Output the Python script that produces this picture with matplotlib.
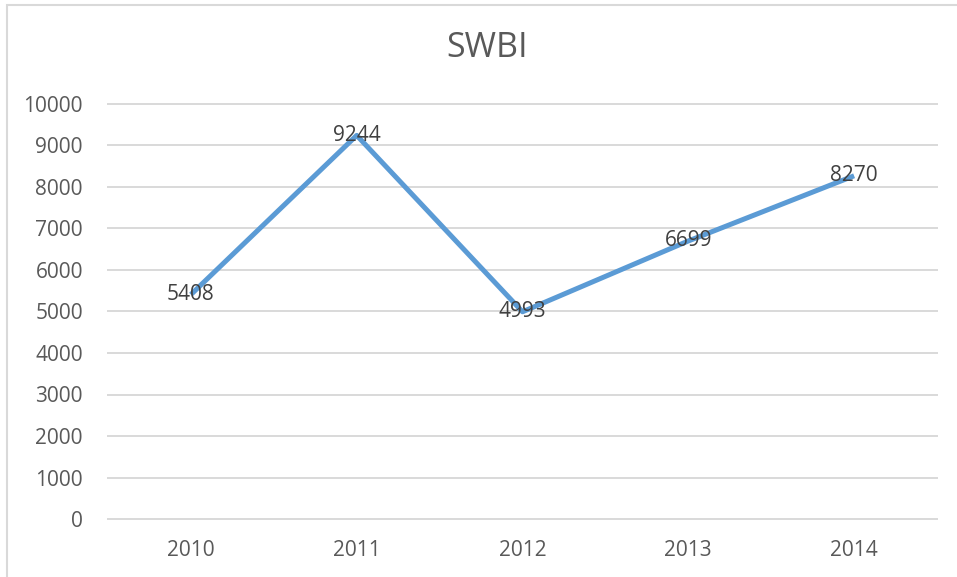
import matplotlib.pyplot as plt
from matplotlib.patches import Rectangle

# chart data
years = ["2010", "2011", "2012", "2013", "2014"]
values = [5408, 9244, 4993, 6699, 8270]
y_ticks = [0, 1000, 2000, 3000, 4000, 5000, 6000, 7000, 8000, 9000, 10000]

plt.rcParams['font.family'] = ['Open Sans', 'DejaVu Sans']

fig = plt.figure(figsize=(9.57, 5.77), dpi=100)
ax = fig.add_axes([108/957, 1 - 519/577, 829/957, 415/577])

x = list(range(len(years)))
ax.plot(x, values, color='#5B9BD5', linewidth=3.6, solid_capstyle='butt', zorder=3)

# data labels sit on the points
for xi, v in zip(x, values):
    ax.text(xi, v, str(v), ha='center', va='center', fontsize=15, color='#404040', zorder=4)

ax.set_xlim(-0.5, len(years) - 0.5)
ax.set_ylim(0, 10000)
ax.set_xticks(x)
ax.set_xticklabels(years)
ax.set_yticks(y_ticks)
ax.set_yticklabels([str(t) for t in y_ticks])
ax.tick_params(length=0, labelsize=15, labelcolor='#595959')
ax.tick_params(axis='y', pad=18)
ax.tick_params(axis='x', pad=15)
ax.grid(axis='y', color='#d9d9d9', linewidth=1.4)
for gl in ax.get_ygridlines():
    gl.set_clip_on(False)
ax.set_axisbelow(True)
for s in ax.spines.values():
    s.set_visible(False)

fig.text(487/957, 1 - 48/577, "SWBI", ha='center', va='center', fontsize=24.5, color='#595959')

# chart border (only left and top edges are in view)
fig.patches.append(Rectangle((7/957, -0.1), 1.2, 1 - 5/577 + 0.1, transform=fig.transFigure,
                             fill=False, edgecolor='#d9d9d9', linewidth=1.5))

fig.savefig("out.png", dpi=100)
